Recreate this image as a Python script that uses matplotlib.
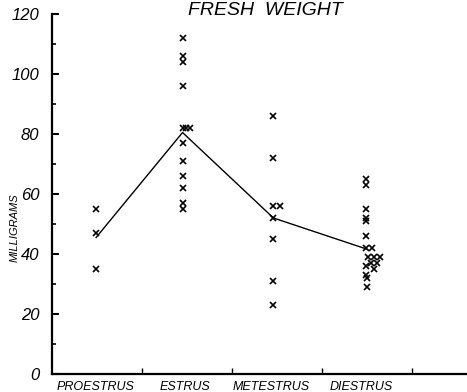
import numpy as np
import matplotlib
matplotlib.use('Agg')
import matplotlib.pyplot as plt
from matplotlib.ticker import MultipleLocator

# ─────────────────────────────────────────────
# DATA
# ─────────────────────────────────────────────
stages = ['PROESTRUS', 'ESTRUS', 'METESTRUS', 'DIESTRUS']
stage_pos = [0.49, 1.45, 2.46, 3.49]
mean_values = [45.5, 80.5, 52.0, 41.7]
y_ticks = [0, 20, 40, 60, 80, 100, 120]

proestrus = [55, 47, 35]
proestrus_dx = [0, 0, 0]

estrus = [112, 106, 104, 96, 82, 82, 82, 77, 71, 66, 62, 57, 55]
estrus_dx = [0, 0, 0, 0, 0, 0.04, 0.08, 0, 0, 0, 0, 0, 0]

metestrus = [86, 72, 56, 56, 52, 45, 31, 23]
metestrus_dx = [0, 0, 0, 0.07, 0, 0, 0, 0]

diestrus = [65, 63, 55, 52, 51, 46, 42, 42, 39, 39, 39, 37, 37, 36, 35, 33, 32, 29]
diestrus_dx = [0, 0, 0, 0, 0, 0, 0, 0.07, 0.02, 0.09, 0.15, 0.05, 0.12, 0.0, 0.09, 0, 0.01, 0.01]

groups = [(proestrus, proestrus_dx), (estrus, estrus_dx),
          (metestrus, metestrus_dx), (diestrus, diestrus_dx)]

# ─────────────────────────────────────────────
# PLOT
# ─────────────────────────────────────────────
plt.rcParams['font.family'] = ['Liberation Sans', 'DejaVu Sans']

fig = plt.figure(figsize=(4.67, 3.92), dpi=100)
ax = fig.add_axes([52 / 467, 18 / 392, 1 - 52 / 467, 360 / 392])

for pos, (vals, dx) in zip(stage_pos, groups):
    xs = [pos + d for d in dx]
    ax.plot(xs, vals, linestyle='none', marker='x', color='black',
            markersize=4, markeredgewidth=1.2)

ax.plot(stage_pos, mean_values, color='black', linewidth=1.0)

ax.set_xlim(0, 4.61)
ax.set_ylim(0, 120)

for s in ['top', 'right']:
    ax.spines[s].set_visible(False)
ax.spines['left'].set_linewidth(1.6)
ax.spines['bottom'].set_linewidth(1.6)

ax.set_yticks(y_ticks)
ax.yaxis.set_minor_locator(MultipleLocator(10))
ax.tick_params(axis='y', which='major', direction='in', length=5, width=1.5,
               pad=9, labelsize=12)
ax.tick_params(axis='y', which='minor', direction='in', length=3, width=1.2)

ax.set_xticks([1, 2, 3, 4])
ax.set_xticklabels([])
ax.tick_params(axis='x', which='major', direction='in', length=4, width=1.0)

for pos, name in zip([0.48, 1.48, 2.44, 3.43], stages):
    ax.text(pos, -2.5, name, ha='center', va='top', fontsize=9,
            fontstyle='italic', clip_on=False)

fig.text(15 / 467, 1 - 228 / 392, 'MILLIGRAMS', rotation=90, ha='center',
         va='center', fontsize=8, fontstyle='italic')
fig.text(265 / 467, 1 - 15 / 392, 'FRESH  WEIGHT', ha='center', va='baseline',
         fontsize=14, fontstyle='italic')

# italic tick labels (set after a draw so every tick exists)
fig.canvas.draw()
for lbl in ax.get_yticklabels():
    lbl.set_fontstyle('italic')

fig.savefig('out.png', dpi=100)
